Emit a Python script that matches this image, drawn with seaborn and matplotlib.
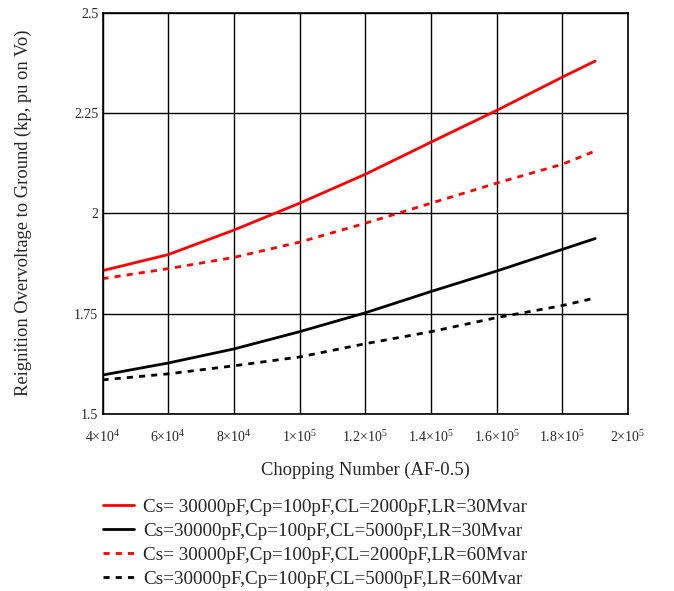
import matplotlib
matplotlib.use("Agg")
import matplotlib.pyplot as plt
import seaborn as sns
import pandas as pd

x_vals = [40000, 60000, 80000, 100000, 120000, 140000, 160000, 180000, 190000]
red_solid = [1.857, 1.897, 1.958, 2.025, 2.097, 2.177, 2.256, 2.339, 2.379]
black_solid = [1.597, 1.627, 1.662, 1.705, 1.752, 1.805, 1.856, 1.910, 1.937]
red_dashed = [1.837, 1.862, 1.890, 1.928, 1.975, 2.025, 2.075, 2.122, 2.155]
black_dashed = [1.585, 1.600, 1.620, 1.642, 1.675, 1.705, 1.740, 1.770, 1.789]

labels = [
    "Cs= 30000pF,Cp=100pF,CL=2000pF,LR=30Mvar",
    "Cs=30000pF,Cp=100pF,CL=5000pF,LR=30Mvar",
    "Cs= 30000pF,Cp=100pF,CL=2000pF,LR=60Mvar",
    "Cs=30000pF,Cp=100pF,CL=5000pF,LR=60Mvar",
]
series = [red_solid, black_solid, red_dashed, black_dashed]
colors = ["#ff0000", "#000000", "#ff0000", "#000000"]
styles = ["-", "-", (0, (2.2, 2.2)), (0, (2.2, 2.2))]

x_ticks = [40000, 60000, 80000, 100000, 120000, 140000, 160000, 180000, 200000]
x_tick_labels = [r"$4{\times}10^{4}$", r"$6{\times}10^{4}$", r"$8{\times}10^{4}$",
                 r"$1{\times}10^{5}$", r"$1.2{\times}10^{5}$", r"$1.4{\times}10^{5}$",
                 r"$1.6{\times}10^{5}$", r"$1.8{\times}10^{5}$", r"$2{\times}10^{5}$"]
y_ticks = [1.5, 1.75, 2.0, 2.25, 2.5]
y_tick_labels = ["1.5", "1.75", "2", "2.25", "2.5"]

sns.set_style("white")
plt.rcParams["font.family"] = ["Liberation Serif", "DejaVu Serif"]
plt.rcParams["mathtext.fontset"] = "custom"
plt.rcParams["mathtext.rm"] = "Liberation Serif"
plt.rcParams["mathtext.it"] = "Liberation Serif:italic"

fig = plt.figure(figsize=(6.74, 5.91), dpi=100)
ax = fig.add_axes([102.5 / 674, 1 - 414 / 591, (628 - 102.5) / 674, (414 - 12.5) / 591])

for ys, c, ls, lab in zip(series, colors, styles, labels):
    df = pd.DataFrame({"x": x_vals, "y": ys})
    sns.lineplot(data=df, x="x", y="y", ax=ax, color=c, linestyle=ls, linewidth=2.0, label=lab)

ax.set_xlim(40000, 200000)
ax.set_ylim(1.5, 2.5)
ax.set_xticks(x_ticks)
ax.set_xticklabels(x_tick_labels, fontsize=10)
ax.set_yticks(y_ticks)
ax.set_yticklabels(y_tick_labels, fontsize=10)
ax.grid(True, color="black", linewidth=1.0)
ax.set_axisbelow(True)
for sp in ax.spines.values():
    sp.set_color("black")
    sp.set_linewidth(1.2)
ax.tick_params(axis="x", length=0, pad=11)
ax.tick_params(axis="y", length=0, pad=3)
ax.set_xlabel("Chopping Number (AF-0.5)", fontsize=13.3, labelpad=12)
ax.set_ylabel("Reignition Overvoltage to Ground (kp, pu on Vo)", fontsize=13.3, labelpad=30)

handles, labs = ax.get_legend_handles_labels()
ax.get_legend().remove()
fig.legend(handles, labs, loc="upper left", bbox_to_anchor=(95.5 / 674, 1 - 491 / 591),
           frameon=False, fontsize=13.8, handlelength=1.6, handletextpad=0.5,
           labelspacing=0.34, borderaxespad=0)

fig.savefig("out.png", dpi=100)
